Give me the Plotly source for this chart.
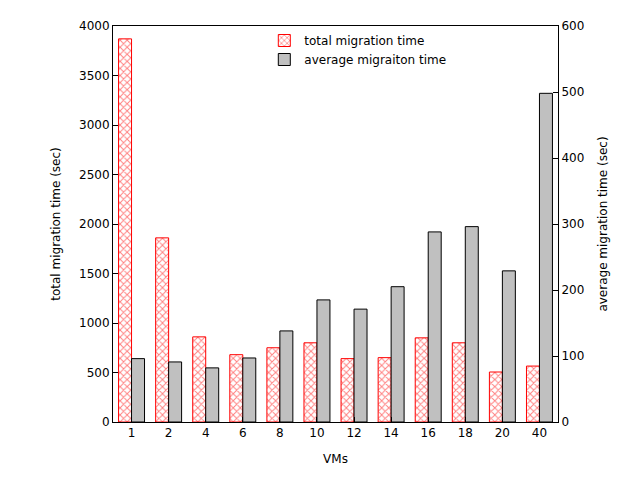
import plotly.graph_objects as go

vms = ["1", "2", "4", "6", "8", "10", "12", "14", "16", "18", "20", "40"]
total_time = [3870, 1860, 860, 680, 750, 800, 640, 650, 850, 800, 505, 565]
avg_time = [96, 91, 82, 97, 138, 185, 171, 205, 288, 296, 229, 498]

fig = go.Figure()
fig.add_trace(go.Bar(
    x=vms, y=total_time, name="total migration time", offsetgroup=0,
    marker=dict(color="white", line=dict(color="red", width=1),
                pattern=dict(shape="x", fgcolor="red", bgcolor="white", size=5, solidity=0.35)),
))
fig.add_trace(go.Bar(
    x=vms, y=avg_time, name="average migraiton time", offsetgroup=1, yaxis="y2",
    marker=dict(color="#c0c0c0", line=dict(color="black", width=1)),
))

fig.update_layout(
    width=640, height=480,
    margin=dict(l=105, r=90, t=18, b=66),
    paper_bgcolor="white", plot_bgcolor="white",
    font=dict(family="DejaVu Sans", size=12, color="black"),
    barmode="group", bargap=0.3, bargroupgap=0.0,
    showlegend=True,
    legend=dict(x=0.34, y=1.0, xanchor="left", yanchor="top", bgcolor="rgba(0,0,0,0)",
                font=dict(size=12)),
    xaxis=dict(title=dict(text="VMs", font=dict(size=12)), showline=True, mirror=True,
               linecolor="black", ticks="inside", tickcolor="black", automargin=False),
    yaxis=dict(title=dict(text="total migration time (sec)", font=dict(size=12)),
               range=[0, 4000], dtick=500, automargin=False,
               showline=True, linecolor="black", ticks="inside", tickcolor="black",
               showgrid=False, zeroline=False),
    yaxis2=dict(title=dict(text="average migration time (sec)", font=dict(size=12)),
                range=[0, 600], dtick=100, automargin=False,
                overlaying="y", side="right", showline=True, linecolor="black",
                ticks="inside", tickcolor="black", showgrid=False, zeroline=False),
)

fig.write_html("out.html")
